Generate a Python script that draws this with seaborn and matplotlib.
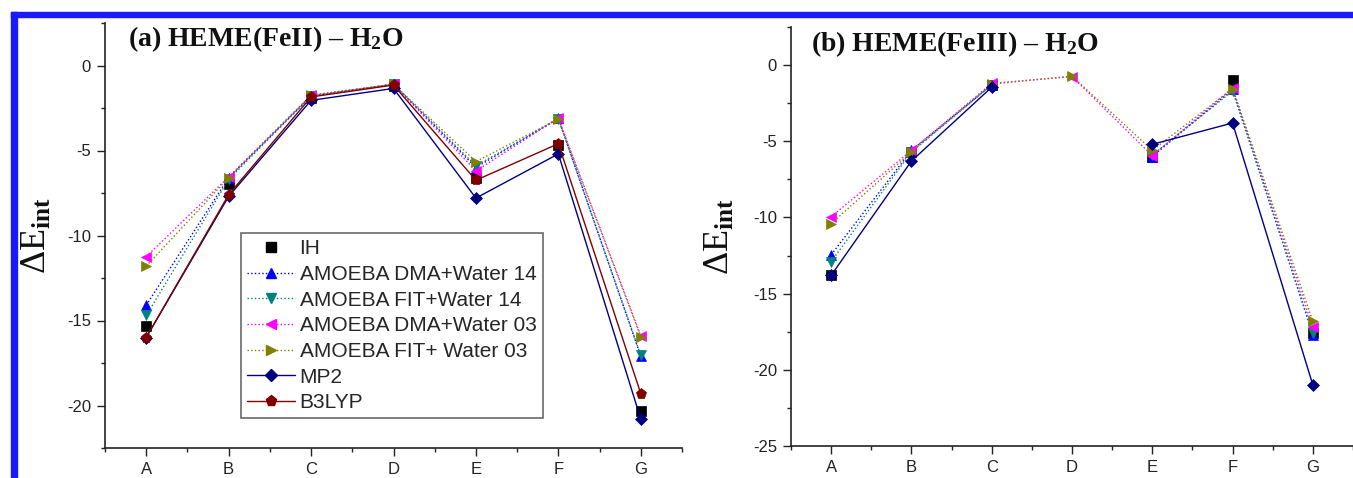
import numpy as np
import pandas as pd
import matplotlib
matplotlib.use("Agg")
import matplotlib.pyplot as plt
from matplotlib.lines import Line2D
from matplotlib.patches import Rectangle
from matplotlib.ticker import MultipleLocator
import seaborn as sns

# ---------------- data ----------------
categories = ['A', 'B', 'C', 'D', 'E', 'F', 'G']
series_names = ['IH', 'AMOEBA DMA+Water 14', 'AMOEBA FIT+Water 14',
                'AMOEBA DMA+Water 03', 'AMOEBA FIT+ Water 03', 'MP2', 'B3LYP']

# panel (a) HEME(FeII) - H2O
ih_a     = [-15.35, -6.95, -1.90, -1.20, -6.60, -4.70, -20.30]
dma14_a  = [-14.10, -6.60, -1.80, -1.10, -6.00, -3.10, -17.10]
fit14_a  = [-14.70, -6.70, -1.80, -1.10, -5.90, -3.15, -17.05]
dma03_a  = [-11.25, -6.55, -1.75, -1.10, -6.20, -3.10, -15.90]
fit03_a  = [-11.80, -6.60, -1.75, -1.10, -5.65, -3.15, -15.95]
mp2_a    = [-16.00, -7.70, -2.05, -1.35, -7.80, -5.20, -20.80]
b3lyp_a  = [-16.00, -7.60, -1.85, -1.15, -6.75, -4.60, -19.30]

# panel (b) HEME(FeIII) - H2O
nan = np.nan
ih_b     = [-13.80, -5.70, -1.30, nan, -6.00, -0.95, -17.60]
dma14_b  = [-12.45, -5.60, -1.30, nan, -6.00, -1.60, -17.70]
fit14_b  = [-12.90, -5.70, -1.30, nan, -5.90, -1.70, -17.60]
dma03_b  = [-9.95, -5.60, -1.20, -0.75, -5.95, -1.50, -17.20]
fit03_b  = [-10.40, -5.70, -1.25, -0.72, -5.60, -1.55, -16.80]
mp2_b    = [-13.80, -6.30, -1.45, nan, -5.20, -3.80, -21.00]

panel_a = [ih_a, dma14_a, fit14_a, dma03_a, fit03_a, mp2_a, b3lyp_a]
panel_b = [ih_b, dma14_b, fit14_b, dma03_b, fit03_b, mp2_b]

# ---------------- styles ----------------
styles = [
    dict(color='#000000', ls='none', marker='s', ms=6.5),
    dict(color='#0000ff', ls=':', marker='^', ms=7.5),
    dict(color='#008080', ls=':', marker='v', ms=7.5),
    dict(color='#ff00ff', ls=':', marker='<', ms=7.5),
    dict(color='#808000', ls=':', marker='>', ms=7.5),
    dict(color='#000080', ls='-', marker='D', ms=6.0),
    dict(color='#800000', ls='-', marker='p', ms=8.0),
]

sns.set_style('ticks')
plt.rcParams['font.family'] = ['Liberation Sans', 'DejaVu Sans']
plt.rcParams['axes.unicode_minus'] = False
plt.rcParams['mathtext.fontset'] = 'custom'
plt.rcParams['mathtext.rm'] = 'Liberation Serif'
plt.rcParams['mathtext.it'] = 'Liberation Serif:italic'
plt.rcParams['mathtext.bf'] = 'Liberation Serif:bold'

fig = plt.figure(figsize=(13.53, 4.78), dpi=100)
W, H = 1353, 478


def px_axes(l, r, t, b):
    return fig.add_axes([l / W, 1 - b / H, (r - l) / W, (b - t) / H])


ax_a = px_axes(105, 682, 23, 448)
ax_b = px_axes(791, 1353, 27, 446)


def draw(ax, values, style):
    x = np.arange(len(categories))
    y = np.asarray(values, dtype=float)
    seg = np.cumsum(np.isnan(y))
    df = pd.DataFrame({'x': x, 'y': y, 'seg': seg}).dropna()
    sns.lineplot(data=df, x='x', y='y', units='seg', estimator=None,
                 color=style['color'], linestyle=style['ls'], linewidth=1.0,
                 marker=style['marker'], markersize=style['ms'],
                 mec=style['color'], mew=0.5, legend=False, sort=True, ax=ax)


for vals, st in zip(panel_a, styles):
    draw(ax_a, vals, st)
for vals, st in zip(panel_b, styles):
    draw(ax_b, vals, st)


def format_axis(ax, ylo, yticks):
    ax.set_xlim(-0.5, len(categories) - 0.5)
    ax.set_ylim(ylo, 2.5)
    ax.set_xticks(np.arange(len(categories)))
    ax.set_xticklabels(categories)
    ax.xaxis.set_minor_locator(MultipleLocator(0.5))
    ax.set_yticks(yticks)
    ax.set_yticklabels([str(v) for v in yticks])
    ax.yaxis.set_minor_locator(MultipleLocator(2.5))
    ax.tick_params(which='major', direction='out', length=6, width=1.0,
                   labelsize=12, colors='#222222', pad=4)
    ax.tick_params(which='minor', direction='out', length=3, width=1.0,
                   colors='#222222')
    for s in ['top', 'right']:
        ax.spines[s].set_visible(False)
    for s in ['left', 'bottom']:
        ax.spines[s].set_linewidth(1.2)
        ax.spines[s].set_color('#222222')
    ax.set_xlabel('')
    ax.set_ylabel('ΔE$_{\\mathbf{int}}$', family=['Liberation Serif', 'DejaVu Serif'],
                  fontsize=26, color='#111111')


format_axis(ax_a, -22.5, [0, -5, -10, -15, -20])
format_axis(ax_b, -25, [0, -5, -10, -15, -20, -25])
ax_a.yaxis.set_label_coords(-0.088, 0.5)
ax_b.yaxis.set_label_coords(-0.097, 0.5)

ax_a.text(0.04, 0.962, '(a) HEME(FeII) – H$_{\\mathbf{2}}$O', transform=ax_a.transAxes,
          family=['Liberation Serif'], fontweight='bold', fontsize=20,
          va='center', ha='left', color='#111111')
ax_b.text(0.036, 0.958, '(b) HEME(FeIII) – H$_{\\mathbf{2}}$O', transform=ax_b.transAxes,
          family=['Liberation Serif'], fontweight='bold', fontsize=20,
          va='center', ha='left', color='#111111')

handles = [Line2D([], [], color=st['color'], linestyle=st['ls'], linewidth=1.0,
                  marker=st['marker'], markersize=st['ms'], mec=st['color'])
           for st in styles]
leg = ax_a.legend(handles, series_names, loc='upper left',
                  bbox_to_anchor=(0.236, 0.506), borderaxespad=0,
                  fontsize=15, frameon=True, fancybox=False,
                  labelspacing=0.32, handlelength=2.3, handletextpad=0.2,
                  borderpad=0.3)
leg.get_frame().set_edgecolor('#444444')
leg.get_frame().set_linewidth(1.2)

# blue page border
fig.patches.append(Rectangle((11 / W, 1 - 17 / H), 1 - 11 / W, 5 / H,
                             transform=fig.transFigure, color='#1a1aff', zorder=10))
fig.patches.append(Rectangle((11 / W, 0), 6 / W, 1 - 12 / H,
                             transform=fig.transFigure, color='#1a1aff', zorder=10))

fig.savefig('out.png', dpi=100)
